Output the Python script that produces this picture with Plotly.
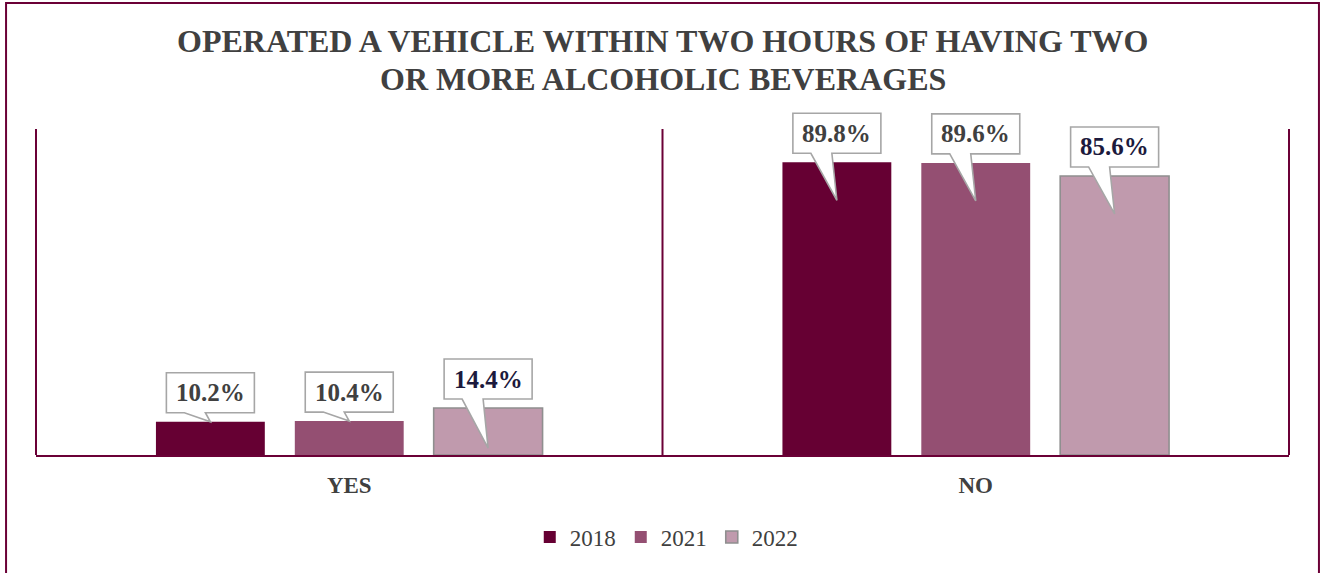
import plotly.graph_objects as go

# Survey responses by year (percent of respondents)
categories = ["YES", "NO"]
years = ["2018", "2021", "2022"]
values_2018 = [10.2, 89.8]
values_2021 = [10.4, 89.6]
values_2022 = [14.4, 85.6]
series = [values_2018, values_2021, values_2022]
title_lines = ["OPERATED A VEHICLE WITHIN TWO HOURS OF HAVING TWO",
               "OR MORE ALCOHOLIC BEVERAGES"]

# Styling
MAROON = "#6b0036"
bar_colors = ["#660033", "#944f72", "#c09aad"]
bar_lines = [None, None, "#8f8f8f"]
label_colors = ["#404040", "#404040", "#1c1a3d"]
SERIF = "Liberation Serif, Times New Roman, serif"

# Callout pointer depth below the bar top (pixels), per year and category
tip_depth = [[0, 38], [0, 38], [40, 38]]

BARGAP = 0.335
GROUPGAP = 0.216
slot = (1 - BARGAP) / len(years)

# The value axis runs 0-100; extra headroom keeps the callouts unclipped
Y_TOP = 100
Y_MAX = 108.9

fig = go.Figure()
for k, (yr, vals) in enumerate(zip(years, series)):
    line = dict(width=0) if bar_lines[k] is None else dict(color=bar_lines[k], width=1.6)
    fig.add_trace(go.Bar(
        name=yr, x=categories, y=vals,
        marker=dict(color=bar_colors[k], line=line),
    ))

shapes = []
annotations = []

# Frame of the value area: left, category divider, right
for xref, xv in (("paper", 0), ("x", 0.5), ("paper", 1)):
    shapes.append(dict(
        type="line", xref=xref, yref="y", x0=xv, x1=xv, y0=0, y1=Y_TOP,
        line=dict(color=MAROON, width=2), layer="above",
    ))

# Speech-bubble callouts anchored on each bar top
for k, vals in enumerate(series):
    offset = (k - (len(years) - 1) / 2) * slot
    for ci, v in enumerate(vals):
        xa = ci + offset
        d = tip_depth[k][ci]
        path = (f"M -44,9 L -26,9 L 0,{-d} L -5,9 L 44,9 "
                f"L 44,49 L -44,49 Z")
        shapes.append(dict(
            type="path", xref="x", yref="y",
            xsizemode="pixel", ysizemode="pixel",
            xanchor=xa, yanchor=v, path=path,
            fillcolor="white", line=dict(color="#a6a6a6", width=1.6),
            layer="above",
        ))
        annotations.append(dict(
            x=xa, y=v, xref="x", yref="y", text=f"{v:.1f}%",
            showarrow=False, yanchor="middle", yshift=29,
            font=dict(family=SERIF, size=25, color=label_colors[k], weight="bold"),
        ))

# Two-line chart title
for ty, txt in zip((1.165, 1.059), title_lines):
    annotations.append(dict(
        x=0.5, y=ty, xref="paper", yref="paper", text=txt, showarrow=False,
        xanchor="center", yanchor="middle",
        font=dict(family=SERIF, size=32, color="#404040", weight="bold"),
    ))

# Outer chart frame
shapes.append(dict(
    type="rect", xref="paper", yref="paper",
    x0=-0.0239, x1=1.0239, y0=-0.35, y1=1.273,
    line=dict(color=MAROON, width=2), fillcolor="rgba(0,0,0,0)", layer="below",
))

fig.update_layout(
    width=1321, height=573,
    margin=dict(l=36, r=32, t=100, b=118),
    paper_bgcolor="white", plot_bgcolor="white",
    barmode="group", bargap=BARGAP, bargroupgap=GROUPGAP,
    xaxis=dict(
        type="category", ticks="", showgrid=False,
        showline=True, linecolor=MAROON, linewidth=2,
        tickfont=dict(family=SERIF, size=23, color="#404040", weight="bold"),
        ticklabelstandoff=8,
        fixedrange=True,
    ),
    yaxis=dict(
        range=[0, Y_MAX], showticklabels=False, showgrid=False, zeroline=False,
        showline=False, ticks="", fixedrange=True,
    ),
    legend=dict(
        orientation="h", x=0.503, xanchor="center", y=-0.231, yanchor="middle",
        font=dict(family=SERIF, size=23, color="#404040"),
        itemclick=False,
    ),
    shapes=shapes,
    annotations=annotations,
    showlegend=True,
)

fig.write_html("out.html")
